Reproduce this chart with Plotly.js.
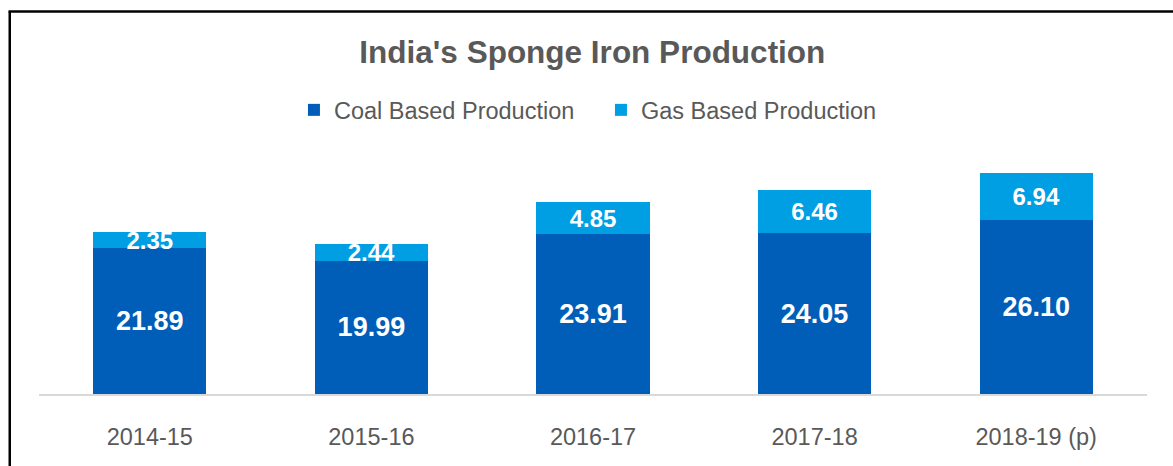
<!DOCTYPE html>
<html>
<head>
<meta charset="utf-8">
<script src="https://cdn.plot.ly/plotly-3.0.1.min.js"></script>
<style>
  html, body { margin: 0; padding: 0; background: #fff; overflow: hidden; }
  #chart { width: 1173px; height: 466px; }
</style>
</head>
<body>
<div id="chart"></div>
<script>
const years = ["2014-15", "2015-16", "2016-17", "2017-18", "2018-19 (p)"];
const coalBased = [21.89, 19.99, 23.91, 24.05, 26.10];
const gasBased = [2.35, 2.44, 4.85, 6.46, 6.94];

const FONT = "Liberation Sans, Arial, sans-serif";
const GREY = "#595959";

const traces = [
  {
    type: "bar", name: "Coal Based Production", x: years, y: coalBased,
    marker: { color: "#005EB8" },
    texttemplate: "%{y:.2f}", textposition: "inside", insidetextanchor: "middle",
    textangle: 0, constraintext: "none",
    insidetextfont: { family: FONT, size: 27, color: "#ffffff", weight: "bold" },
    hoverinfo: "none"
  },
  {
    type: "bar", name: "Gas Based Production", x: years, y: gasBased,
    marker: { color: "#009EE3" },
    texttemplate: "%{y:.2f}", textposition: "inside", insidetextanchor: "middle",
    textangle: 0, constraintext: "none",
    insidetextfont: { family: FONT, size: 24, color: "#ffffff", weight: "bold" },
    hoverinfo: "none"
  }
];

const layout = {
  width: 1173, height: 466,
  margin: { l: 39, r: 26, t: 150, b: 71.5 },
  paper_bgcolor: "#ffffff", plot_bgcolor: "#ffffff",
  barmode: "stack", bargap: 0.49,
  title: {
    text: "<b>India's Sponge Iron Production</b>",
    font: { family: FONT, size: 31.5, color: GREY },
    x: 0.505, xanchor: "center", y: 1 - 52 / 466, yanchor: "middle", yref: "container"
  },
  showlegend: true,
  legend: {
    orientation: "h", x: 0.2301, xanchor: "left", y: 1.1636, yanchor: "middle",
    entrywidth: 262, entrywidthmode: "pixels",
    traceorder: "normal", font: { family: FONT, size: 23.5, color: GREY },
    bgcolor: "rgba(0,0,0,0)"
  },
  xaxis: {
    type: "category", showline: true, linecolor: "#d9d9d9", linewidth: 1.5,
    showgrid: false, zeroline: false, ticks: "", ticklabelstandoff: 21,
    tickfont: { family: FONT, size: 23.5, color: GREY }, fixedrange: true
  },
  yaxis: {
    range: [0, 36.55], visible: false, showgrid: false, zeroline: false, fixedrange: true
  },
  shapes: [
    { type: "line", xref: "paper", yref: "paper", x0: -0.0264, x1: -0.0264, y0: 1.5675, y1: -0.35,
      line: { color: "#000000", width: 2.5 } },
    { type: "line", xref: "paper", yref: "paper", x0: -0.0275, x1: 1.05, y0: 1.5675, y1: 1.5675,
      line: { color: "#000000", width: 2.5 } }
  ],
  font: { family: FONT, color: GREY }
};

Plotly.newPlot("chart", traces, layout, { displayModeBar: false, staticPlot: true });
</script>
</body>
</html>
